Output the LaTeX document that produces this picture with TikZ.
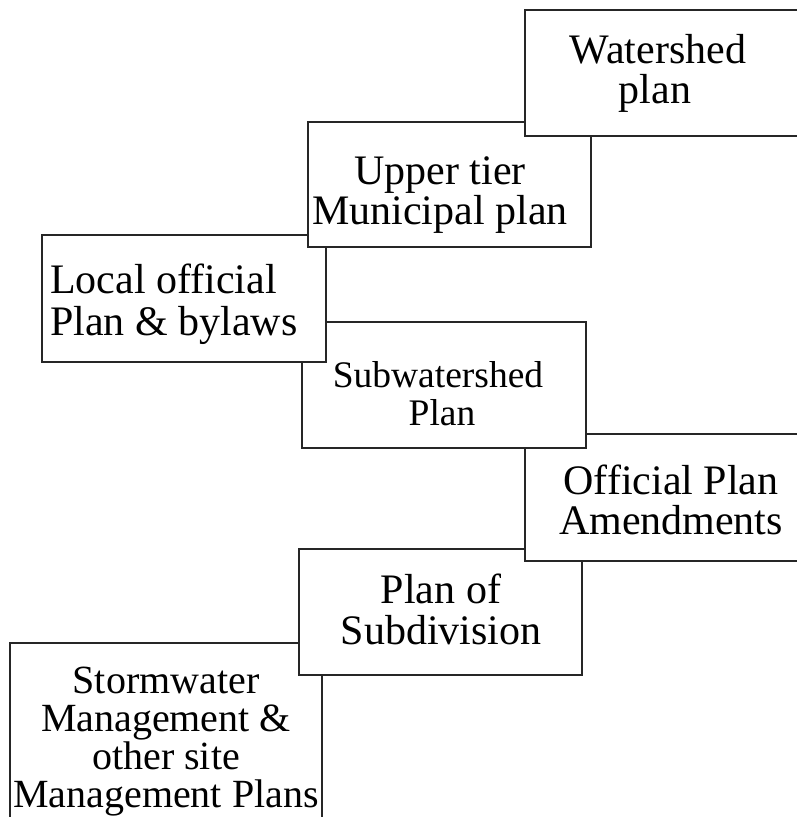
\documentclass[tikz,border=0pt]{standalone}
\usepackage{fontspec}
\setmainfont{Liberation Serif}
\tikzset{
  planbox/.style={draw=black!85, line width=1.1pt, fill=white},
  txt/.style={anchor=base, inner sep=0pt, font=\fontsize{42}{42}\selectfont},
  txtsmall/.style={anchor=base, inner sep=0pt, font=\fontsize{37.5}{38}\selectfont},
  txtsw/.style={anchor=base, inner sep=0pt, font=\fontsize{40}{40}\selectfont},
}
\begin{document}
\begin{tikzpicture}[x=1pt,y=-1pt]
\useasboundingbox (0,0) rectangle (796,817);
% boxes, bottom to top
\draw[planbox] (10,643) rectangle (322,830);
\draw[planbox] (299,549) rectangle (582,675);
\draw[planbox] (525,434) rectangle (810,561);
\draw[planbox] (302,322) rectangle (586,448);
\draw[planbox] (42,235) rectangle (326,362);
\draw[planbox] (308,122) rectangle (591,247);
\draw[planbox] (525,10) rectangle (810,136);
% texts
\node[txt] (w1) at (658,63) {Watershed};
\node[txt] (w2) at (655,103) {plan};
\node[txt] (u1) at (440,184) {Upper tier};
\node[txt] (u2) at (440,224) {Municipal plan};
\node[txt, anchor=base west] (l1) at (50,293) {Local official};
\node[txt, anchor=base west] (l2) at (50,335) {Plan \& bylaws};
\node[txtsmall] (s1) at (438,387) {Subwatershed};
\node[txtsmall] (s2) at (442,425) {Plan};
\node[txt] (o1) at (671,494) {Official Plan};
\node[txt] (o2) at (671,534) {Amendments};
\node[txt] (p1) at (441,603) {Plan of};
\node[txt] (p2) at (441,644) {Subdivision};
\node[txtsw] (sw1) at (166,693) {Stormwater};
\node[txtsw] (sw2) at (166,731) {Management \&};
\node[txtsw] (sw3) at (166,769) {other site};
\node[txtsw] (sw4) at (166,807) {Management Plans};
\end{tikzpicture}
\end{document}
